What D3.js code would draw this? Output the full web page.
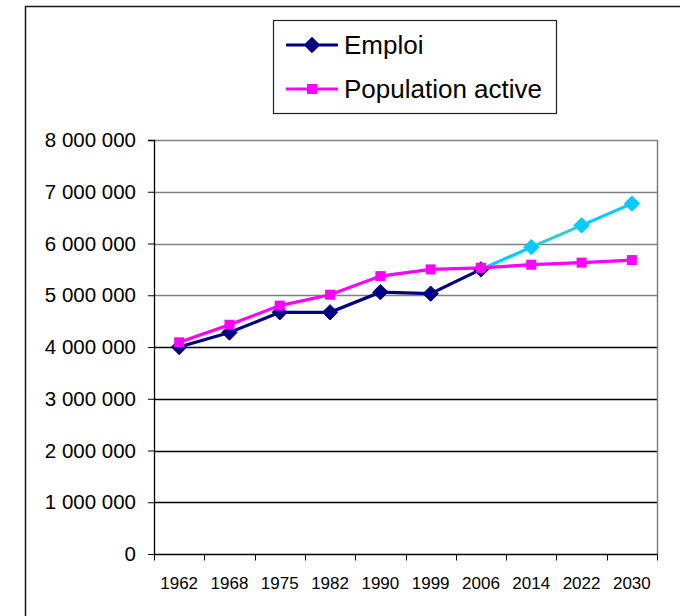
<!DOCTYPE html>
<html><head><meta charset="utf-8">
<script src="https://cdn.jsdelivr.net/npm/d3@7/dist/d3.min.js"></script>
<style>body{margin:0;background:#fff}svg{display:block;font-family:"Liberation Sans",Arial,sans-serif}</style>
</head><body><svg id="c" width="680" height="616"></svg>
<script>
const categories = ["1962","1968","1975","1982","1990","1999","2006","2014","2022","2030"];
const emploi = [4000000,4280000,4670000,4670000,5060000,5030000,5500000,5930000,6350000,6770000];
const populationActive = [4090000,4430000,4800000,5010000,5370000,5500000,5530000,5590000,5630000,5680000];
const projectionFrom = "2006";
const yTicks = [0,1000000,2000000,3000000,4000000,5000000,6000000,7000000,8000000];
const seriesNames = ["Emploi","Population active"];

const svg = d3.select("#c");
const L=154, R=657, T=140, B=554;
const x = d3.scaleBand().domain(categories).range([L,R]);
const y = d3.scaleLinear().domain([0,8000000]).range([B,T]);
const cx = d=>x(d)+x.bandwidth()/2;
const fmt = v => d3.format(",")(v).replace(/,/g," ");

// outer frame
svg.append("rect").attr("x",25.5).attr("y",6.5).attr("width",800).attr("height",800)
  .attr("fill","none").attr("stroke","#1a1a1a").attr("stroke-width",1.5);

// gridlines
svg.append("g").selectAll("line").data(yTicks.filter(v=>v>0)).join("line")
  .attr("x1",L).attr("x2",R).attr("y1",d=>Math.round(y(d))+0.5).attr("y2",d=>Math.round(y(d))+0.5)
  .attr("stroke",d=>d>=5000000?"#808080":"#000").attr("stroke-width",1.3);
// right border
svg.append("line").attr("x1",R+0.5).attr("x2",R+0.5).attr("y1",T).attr("y2",B).attr("stroke","#808080").attr("stroke-width",1.5);

// y axis
const yAxis = d3.axisLeft(y).tickValues(yTicks).tickFormat(fmt).tickSize(6).tickPadding(12);
const gy = svg.append("g").attr("transform",`translate(${L},0)`).call(yAxis);
gy.select(".domain").attr("stroke","#000").attr("stroke-width",1.3).attr("d",`M-6,${T+0.5}H0.5V${B}`);
gy.selectAll(".tick line").attr("stroke","#000");
gy.selectAll("text").attr("font-size",20.5).attr("fill","#000").attr("font-family","Liberation Sans, Arial, sans-serif");

// x axis
const gx = svg.append("g").attr("transform",`translate(0,${B+0.5})`);
gx.append("line").attr("x1",L).attr("x2",R+1).attr("stroke","#000").attr("stroke-width",1.3);
const bounds = categories.map(c=>x(c)).concat([R]);
gx.selectAll("line.t").data(bounds).join("line").attr("class","t")
  .attr("x1",d=>Math.round(d)+0.5).attr("x2",d=>Math.round(d)+0.5).attr("y1",0).attr("y2",6).attr("stroke","#000");
gx.selectAll("text").data(categories).join("text")
  .attr("x",d=>cx(d)).attr("y",34).attr("text-anchor","middle").attr("font-size",17).attr("fill","#000").text(d=>d);

const line = d3.line().x(d=>cx(d.c)).y(d=>y(d.v));
const emp = categories.map((c,i)=>({c,v:emploi[i]}));
const pop = categories.map((c,i)=>({c,v:populationActive[i]}));
const pIdx = categories.indexOf(projectionFrom);
const navy="#000080", mag="#FF00FF", cyan="#00CCFF", teal="#33CCCC";

// emploi historic line
svg.append("path").attr("d",line(emp.slice(0,pIdx+1))).attr("fill","none").attr("stroke",navy).attr("stroke-width",3.2);
// projection segments
for(let i=pIdx;i<emp.length-1;i++){
  svg.append("path").attr("d",line(emp.slice(i,i+2))).attr("fill","none")
    .attr("stroke", i===pIdx+1?teal:cyan).attr("stroke-width",3.2);
}
const diamond = d3.symbol().type(d3.symbolDiamond2).size(150);
svg.append("g").selectAll("path").data(emp.slice(0,pIdx+1)).join("path")
  .attr("d",diamond).attr("transform",d=>`translate(${cx(d.c)},${y(d.v)})`).attr("fill",navy).attr("stroke",navy).attr("stroke-width",1);
// population
svg.append("path").attr("d",line(pop)).attr("fill","none").attr("stroke",mag).attr("stroke-width",3.2);
svg.append("g").selectAll("rect").data(pop).join("rect")
  .attr("x",d=>cx(d.c)-5).attr("y",d=>y(d.v)-5).attr("width",10).attr("height",10).attr("fill",mag);
svg.append("g").selectAll("path").data(emp.slice(pIdx+1)).join("path")
  .attr("d",diamond).attr("transform",d=>`translate(${cx(d.c)},${y(d.v)})`).attr("fill",cyan).attr("stroke",cyan).attr("stroke-width",1);

// legend
const lg = svg.append("g");
lg.append("rect").attr("x",273.5).attr("y",20.5).attr("width",283).attr("height",93).attr("fill","#fff").attr("stroke","#222").attr("stroke-width",1.2);
const rows=[{n:seriesNames[0],c:navy,s:"d",y:45},{n:seriesNames[1],c:mag,s:"s",y:89}];
rows.forEach(r=>{
  lg.append("line").attr("x1",286).attr("x2",338).attr("y1",r.y).attr("y2",r.y).attr("stroke",r.c).attr("stroke-width",3.2);
  if(r.s==="d") lg.append("path").attr("d",diamond).attr("transform",`translate(312,${r.y})`).attr("fill",r.c).attr("stroke",r.c);
  else lg.append("rect").attr("x",307).attr("y",r.y-5).attr("width",10).attr("height",10).attr("fill",r.c);
  lg.append("text").attr("x",344).attr("y",r.y+9).attr("font-size",26).attr("fill","#000").text(r.n);
});
</script></body></html>
